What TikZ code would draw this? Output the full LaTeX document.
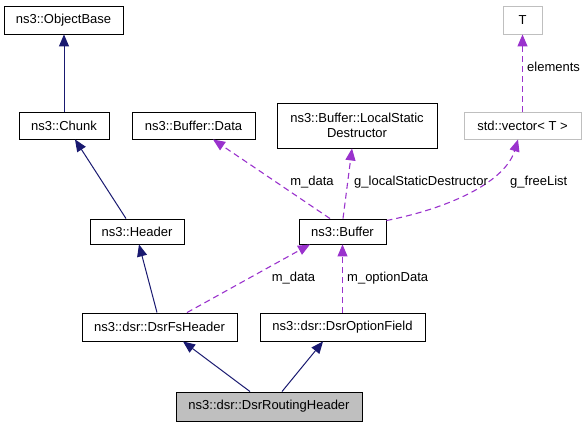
\documentclass[tikz,border=0pt]{standalone}
\usepackage{fontspec}
\setmainfont{Liberation Sans}
\usepackage{tikz}
\usetikzlibrary{calc,arrows.meta}
\definecolor{inherit}{HTML}{191970}
\definecolor{usage}{HTML}{9A32CD}
\definecolor{tmplgray}{HTML}{BFBFBF}
\tikzset{
  box/.style={draw=black, line width=0.9pt, inner sep=0pt, align=center, font=\fontsize{13}{15}\selectfont},
  tmplbox/.style={box, draw=tmplgray},
  focus/.style={box, fill=tmplgray},
  isa/.style={draw=inherit, line width=1pt, -{Triangle[length=12pt,width=10pt]}},
  uses/.style={draw=usage, line width=1.1pt, dash pattern=on 6pt off 4pt, -{Triangle[length=12pt,width=10pt]}},
  label/.style={black, inner sep=0pt, font=\fontsize{13}{15}\selectfont}
}
\begin{document}
\begin{tikzpicture}[x=1pt,y=-1pt]
  \useasboundingbox (0,0) rectangle (585,427);
  \node[box, minimum width=119pt, minimum height=28pt] (objbase) at (63.5,20) {ns3::ObjectBase};
  \node[box, minimum width=90pt, minimum height=27pt] (chunk) at (64,125.5) {ns3::Chunk};
  \node[box, minimum width=123pt, minimum height=27pt] (bufdata) at (193.5,125.5) {ns3::Buffer::Data};
  \node[box, minimum width=160pt, minimum height=45pt] (lsd) at (357,125.5) {ns3::Buffer::LocalStatic\\Destructor};
  \node[tmplbox, minimum width=39pt, minimum height=28pt] (tnode) at (522.5,20) {T};
  \node[tmplbox, minimum width=117pt, minimum height=27pt] (vec) at (522.5,125.5) {std::vector< T >};
  \node[box, minimum width=94pt, minimum height=25pt] (header) at (137,231.5) {ns3::Header};
  \node[box, minimum width=87pt, minimum height=25pt] (buffer) at (342.5,231.5) {ns3::Buffer};
  \node[box, minimum width=155pt, minimum height=28pt] (fshdr) at (159.5,327) {ns3::dsr::DsrFsHeader};
  \node[box, minimum width=165pt, minimum height=28pt] (optfield) at (342.5,327) {ns3::dsr::DsrOptionField};
  \node[focus, minimum width=186pt, minimum height=29pt] (routing) at (269,406.5) {ns3::dsr::DsrRoutingHeader};

  % inheritance
  \draw[isa] (chunk.north) -- (chunk.north |- objbase.south);
  \draw[isa] ([xshift=-11pt]header.north) -- ([xshift=11pt]chunk.south);
  \draw[isa] ([xshift=-2.5pt]fshdr.north) -- ([xshift=2pt]header.south);
  \draw[isa] ([xshift=-19pt]routing.north) -- ([xshift=23.5pt]fshdr.south);
  \draw[isa] ([xshift=13pt]routing.north) -- ([xshift=-19.5pt]optfield.south);

  % members
  \draw[uses] ([xshift=27.5pt]fshdr.north) -- ([xshift=-32.5pt]buffer.south);
  \draw[uses] (optfield.north) -- (buffer.south);
  \draw[uses] ([xshift=-12.5pt]buffer.north) -- ([xshift=19.5pt]bufdata.south);
  \draw[uses] ([xshift=0.5pt]buffer.north) -- ([xshift=-5pt]lsd.south);
  \draw[uses] ([yshift=-2pt]buffer.north east) .. controls +(70,-14) and +(-12,40) .. ([xshift=-4.5pt]vec.south);
  \draw[uses] (vec.north) -- (tnode.south);

  \node[label] (lbdata) at (312,182) {m\_data};
  \node[label, anchor=west] (lblsd) at (354,182) {g\_localStaticDestructor};
  \node[label, anchor=west] (lbfree) at (510,182) {g\_freeList};
  \node[label] (lbfsdata) at (293.5,278) {m\_data};
  \node[label, anchor=west] (lbopt) at (347,278) {m\_optionData};
  \node[label, anchor=west] (lbelem) at (527,67) {elements};
\end{tikzpicture}
\end{document}
